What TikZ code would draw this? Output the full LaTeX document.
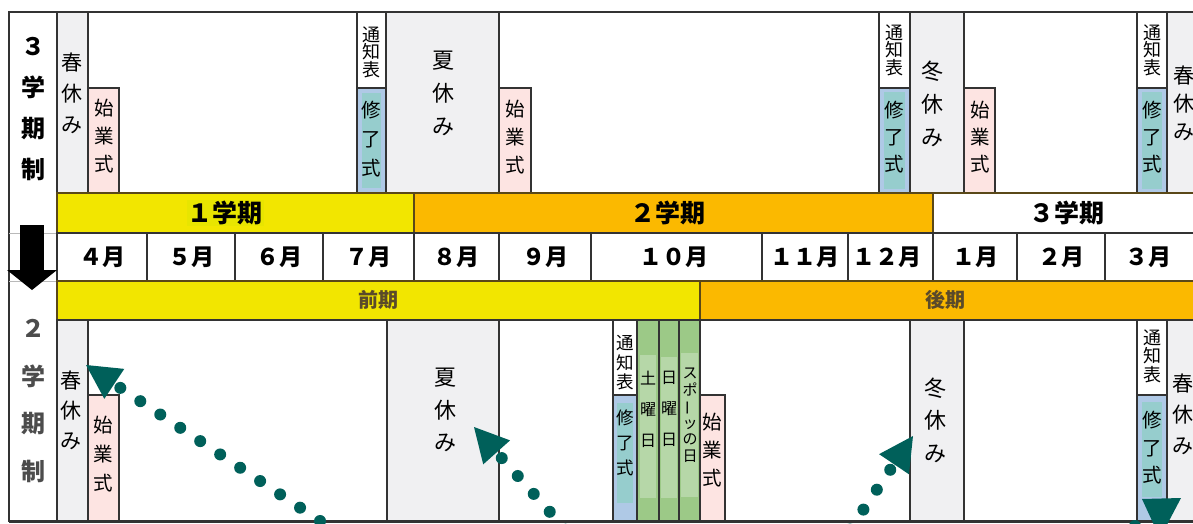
\documentclass[tikz,border=0pt]{standalone}
\usepackage{fontspec}
\setmainfont{Noto Sans CJK JP}
\usetikzlibrary{arrows.meta}
\definecolor{hol}{HTML}{F0F0F2}
\definecolor{pinkc}{HTML}{FDE4E2}
\definecolor{bluec}{HTML}{AFC9E6}
\definecolor{tealc}{HTML}{96CDCD}
\definecolor{greenc}{HTML}{9CC987}
\definecolor{greenl}{HTML}{B6D7A8}
\definecolor{yel}{HTML}{F2E600}
\definecolor{yel2}{HTML}{E8E500}
\definecolor{ora}{HTML}{FBB900}
\definecolor{lin}{HTML}{333333}
\definecolor{arr}{HTML}{00605A}
\definecolor{kiki}{HTML}{5A4A2A}
\definecolor{barline}{HTML}{5A4818}
\newcommand\cellbox[6]{\node[#1,inner sep=0pt,outer sep=0pt,minimum width={(#5-#3)*1pt},minimum height={(#6-#4)*1pt}] (#2) at ({(#3+#5)/2},{(#4+#6)/2}) {};}
\tikzset{
  cellline/.style={draw=lin,line width=1.6pt},
  holbox/.style={cellline,fill=hol},
  pinkbox/.style={cellline,fill=pinkc},
  bluebox/.style={cellline,fill=bluec},
  whitebox/.style={cellline,fill=white},
  greenbox/.style={cellline,fill=greenc},
  innerteal/.style={fill=tealc},
  innergreen/.style={fill=greenl},
  yelbar/.style={draw=barline,line width=1.6pt,fill=yel},
  orabar/.style={draw=barline,line width=1.6pt,fill=ora},
  whbar/.style={draw=barline,line width=1.6pt,fill=white},
  monthbox/.style={cellline,fill=white},
  vt/.style 2 args={align=center,inner sep=0pt,font=\fontsize{#1}{#2}\selectfont},
  lab/.style 2 args={align=center,inner sep=0pt,font=\fontsize{#1}{#2}\selectfont\bfseries},
  bartext/.style={inner sep=1pt,font=\fontsize{25}{25}\selectfont\bfseries},
  monthtext/.style={inner sep=0pt,font=\fontsize{23}{23}\selectfont\bfseries},
  kikitext/.style={inner sep=0pt,text=kiki,font=\fontsize{20}{20}\selectfont\bfseries},
  dotarrow/.style={draw=arr,line width=12pt,line cap=round,dash pattern=on 0pt off 24pt,
    -{Triangle[length=34pt,width=36pt,line width=0pt,fill=arr]}},
  bigarrow/.style={draw=black,line width=24pt,-{Triangle[length=20pt,width=50pt,line width=0pt,fill=black]}},
}
\begin{document}
\begin{tikzpicture}[x=1pt,y=-1pt]
\useasboundingbox (0,0) rectangle (1193,524);
\clip (0,0) rectangle (1193,524);
% left label column
\cellbox{whitebox}{leftcol}{9}{12}{57}{521}
\draw[gray!55,line width=0.8pt] (9,233) -- (57,233);
\draw[gray!55,line width=0.8pt] (9,281) -- (57,281);
% top section
\cellbox{whitebox}{topsec}{57}{12}{1198}{193}
\cellbox{holbox}{tHaruA}{57}{12}{88}{193}
\cellbox{pinkbox}{tShiA}{88}{88}{119}{193}
\cellbox{whitebox}{tTsuA}{357}{12}{386}{88}
\cellbox{bluebox}{tShuA}{357}{88}{386}{193}
\cellbox{innerteal}{tShuAi}{362}{93}{381}{188}
\cellbox{holbox}{tNatsu}{386}{12}{499}{193}
\cellbox{pinkbox}{tShiB}{499}{88}{531}{193}
\cellbox{whitebox}{tTsuB}{879}{12}{910}{88}
\cellbox{bluebox}{tShuB}{879}{88}{910}{193}
\cellbox{innerteal}{tShuBi}{884}{92}{905}{189}
\cellbox{holbox}{tFuyu}{910}{12}{964}{193}
\cellbox{pinkbox}{tShiC}{964}{88}{995}{193}
\cellbox{whitebox}{tTsuC}{1137}{12}{1167}{88}
\cellbox{bluebox}{tShuC}{1137}{88}{1167}{193}
\cellbox{innerteal}{tShuCi}{1142}{92}{1162}{189}
\cellbox{holbox}{tHaruB}{1167}{12}{1198}{193}
% term bars
\cellbox{yelbar}{bar1}{57}{193}{414}{233}
\cellbox{orabar}{bar2}{414}{193}{933}{233}
\cellbox{whbar}{bar3}{933}{193}{1198}{233}
% months
\cellbox{monthbox}{m4}{57}{233}{147}{281}
\cellbox{monthbox}{m5}{147}{233}{235}{281}
\cellbox{monthbox}{m6}{235}{233}{323}{281}
\cellbox{monthbox}{m7}{323}{233}{414}{281}
\cellbox{monthbox}{m8}{414}{233}{499}{281}
\cellbox{monthbox}{m9}{499}{233}{591}{281}
\cellbox{monthbox}{m10}{591}{233}{762}{281}
\cellbox{monthbox}{m11}{762}{233}{848}{281}
\cellbox{monthbox}{m12}{848}{233}{933}{281}
\cellbox{monthbox}{m1}{933}{233}{1017}{281}
\cellbox{monthbox}{m2}{1017}{233}{1105}{281}
\cellbox{monthbox}{m3}{1105}{233}{1198}{281}
% half-year bars
\cellbox{yelbar}{zenki}{57}{281}{700}{320}
\cellbox{orabar}{kouki}{700}{281}{1198}{320}
% bottom section
\cellbox{whitebox}{botsec}{57}{320}{1198}{521}
\cellbox{holbox}{bHaruA}{57}{320}{88}{521}
\cellbox{pinkbox}{bShiA}{88}{395}{119}{521}
\cellbox{holbox}{bNatsu}{387}{320}{499}{521}
\cellbox{whitebox}{bTsuA}{613}{320}{637}{395}
\cellbox{bluebox}{bShuA}{613}{395}{637}{521}
\cellbox{innerteal}{bShuAi}{617}{403}{633}{503}
\cellbox{greenbox}{gDo}{637}{320}{659}{521}
\cellbox{innergreen}{gDoi}{640}{355}{656}{498}
\cellbox{greenbox}{gNichi}{659}{320}{679}{521}
\cellbox{innergreen}{gNichii}{661}{357}{677}{498}
\cellbox{greenbox}{gSpo}{679}{320}{700}{521}
\cellbox{innergreen}{gSpoi}{681}{353}{698}{497}
\cellbox{pinkbox}{bShiB}{700}{395}{725}{521}
\cellbox{holbox}{bFuyu}{910}{320}{964}{521}
\cellbox{whitebox}{bTsuB}{1137}{320}{1167}{395}
\cellbox{bluebox}{bShuB}{1137}{395}{1167}{521}
\cellbox{innerteal}{bShuBi}{1142}{402}{1162}{497}
\cellbox{holbox}{bHaruB}{1167}{320}{1198}{521}
\draw[lin,line width=3pt] (leftcol.south west) -- (botsec.south east);
\draw[lin,line width=2pt] (leftcol.north west) -- (topsec.north east);
% left labels
\node[lab={24}{40.7}] (lab3) at (33,109) {３\\学\\期\\制};
\node[lab={24}{47.7},text=black!70] (lab2) at (33,401) {２\\学\\期\\制};
\coordinate (bkS) at (32,225);
\coordinate (bkE) at (32,290);
\draw[bigarrow] (bkS) -- (bkE);
% top texts
\node[vt={21}{31}] (xHaruA) at (72,93) {春\\休\\み};
\node[vt={19.5}{28}] (xShiA) at (104,136) {始\\業\\式};
\node[vt={18}{17.5}] (xTsuA) at (371,52) {通\\知\\表};
\node[vt={19.5}{29}] (xShuA) at (371,139) {修\\了\\式};
\node[vt={22}{33}] (xNatsu) at (443,93) {夏\\休\\み};
\node[vt={19.5}{28}] (xShiB) at (515,137) {始\\業\\式};
\node[vt={18}{17.5}] (xTsuB) at (894,50) {通\\知\\表};
\node[vt={19.5}{27}] (xShuB) at (894,137) {修\\了\\式};
\node[vt={22}{33}] (xFuyu) at (932,104) {冬\\休\\み};
\node[vt={19.5}{27}] (xShiC) at (980,137) {始\\業\\式};
\node[vt={18}{17.5}] (xTsuC) at (1152,50) {通\\知\\表};
\node[vt={19.5}{27}] (xShuC) at (1152,137) {修\\了\\式};
\node[vt={21}{28}] (xHaruB) at (1184,103) {春\\休\\み};
% bar texts
\node[bartext,fill=yel2] (t1) at (225,213) {１学期};
\node[bartext] (t2) at (668,213) {２学期};
\node[bartext] (t3) at (1067,213) {３学期};
\node[monthtext] (n4) at (m4) {４月};
\node[monthtext] (n5) at (m5) {５月};
\node[monthtext] (n6) at (m6) {６月};
\node[monthtext] (n7) at (m7) {７月};
\node[monthtext] (n8) at (m8) {８月};
\node[monthtext] (n9) at (m9) {９月};
\node[monthtext] (n10) at (674,257) {１０月};
\node[monthtext] (n11) at (m11) {１１月};
\node[monthtext] (n12) at (887,257) {１２月};
\node[monthtext] (n1) at (m1) {１月};
\node[monthtext] (n2) at (m2) {２月};
\node[monthtext] (n3) at (1148,257) {３月};
\node[kikitext] (kz) at (378,300) {前期};
\node[kikitext] (kk) at (945,300) {後期};
% bottom texts
\node[vt={21}{30}] (yHaruA) at (71,410) {春\\休\\み};
\node[vt={19.5}{29}] (yShiA) at (103,454) {始\\業\\式};
\node[vt={22}{32.5}] (yNatsu) at (445,410) {夏\\休\\み};
\node[vt={17.5}{19.5}] (yTsuA) at (625,363) {通\\知\\表};
\node[vt={17.5}{25}] (yShuA) at (625,443) {修\\了\\式};
\node[vt={16}{31}] (yDo) at (648,409) {土\\曜\\日};
\node[vt={16}{31}] (yNichi) at (669,409) {日\\曜\\日};
\node[vt={15}{16.5}] (ySpo) at (690,415) {ス\\ポ\\\rotatebox[origin=c]{90}{ー}\\ッ\\の\\日};
\node[vt={19.5}{28}] (yShiB) at (712,450) {始\\業\\式};
\node[vt={22}{32.5}] (yFuyu) at (935,420) {冬\\休\\み};
\node[vt={18}{18.5}] (yTsuB) at (1152,356) {通\\知\\表};
\node[vt={19.5}{27.5}] (yShuB) at (1152,448) {修\\了\\式};
\node[vt={21}{31}] (yHaruB) at (1183,414) {春\\休\\み};
% dotted arrows
\coordinate (a1s) at (340,534.3);
\coordinate (a1e) at (86,365);
\draw[dotarrow] (a1s) -- (a1e);
\coordinate (a2s) at (565.7,529.7);
\coordinate (a2e) at (474,427);
\draw[dotarrow] (a2s) -- (a2e);
\coordinate (a3s) at (850,529.5);
\coordinate (a3e) at (913,436);
\draw[dotarrow] (a3s) -- (a3e);
\coordinate (a4s) at (1135,526);
\coordinate (a4l) at (1142,499);
\coordinate (a4r) at (1181,498);
\coordinate (a4e) at (1160,538);
\fill[arr] (a4l) -- (a4r) -- (a4e) -- cycle;
\fill[arr] (a4s) circle (6pt);
\end{tikzpicture}
\end{document}
